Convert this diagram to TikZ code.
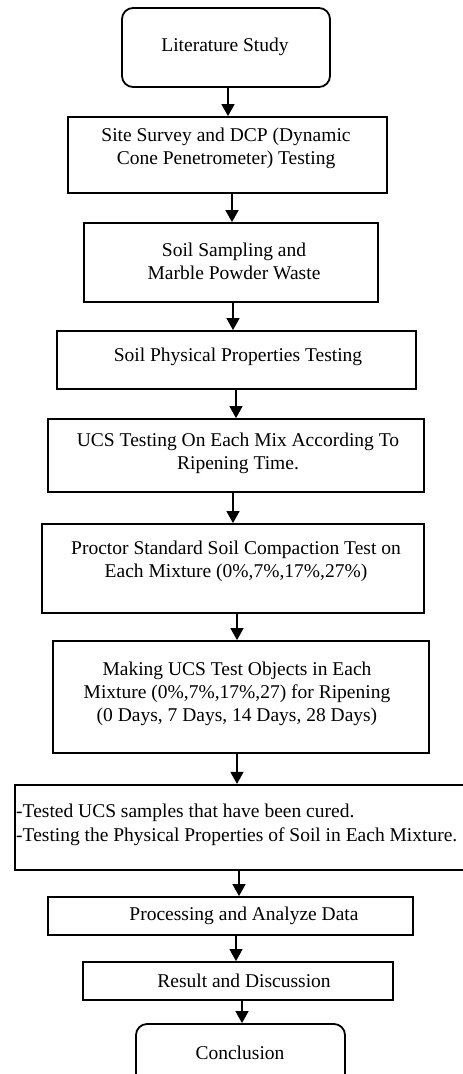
\documentclass[tikz,border=0pt]{standalone}
\usepackage{fontspec}
\setmainfont{Liberation Serif}
\usetikzlibrary{arrows.meta}
\begin{document}
\begin{tikzpicture}[x=1pt,y=-1pt,
  box/.style={draw,line width=1.8pt,inner sep=0pt},
  rbox/.style={box,rounded corners=11pt},
  txt/.style={inner sep=0pt,align=center,font=\fontsize{19.5}{23}\selectfont},
  ltxt/.style={inner sep=0pt,align=left,font=\fontsize{19.5}{24}\selectfont},
  arr/.style={line width=1.4pt,-{Triangle[width=13pt,length=12pt]}}]
\useasboundingbox (0,0) rectangle (463,1074);
\clip (0,0) rectangle (463,1074);

% boxes
\node[rbox,minimum width=208pt,minimum height=79pt] (b1) at (226,47.5) {};
\node[box,minimum width=319pt,minimum height=76pt] (b2) at (227.5,155) {};
\node[box,minimum width=294pt,minimum height=79pt] (b3) at (231,262.5) {};
\node[box,minimum width=359pt,minimum height=58pt] (b4) at (236.5,360) {};
\node[box,minimum width=376pt,minimum height=73pt] (b5) at (236,455.5) {};
\node[box,minimum width=382pt,minimum height=89pt] (b6) at (233,568.5) {};
\node[box,minimum width=376pt,minimum height=112pt] (b7) at (241,697) {};
\node[box,line width=2.2pt,minimum width=470pt,minimum height=85pt] (b8) at (250,827.5) {};
\node[box,minimum width=365pt,minimum height=38pt] (b9) at (230.5,916) {};
\node[box,minimum width=310pt,minimum height=38pt] (b10) at (238,981) {};
\node[rbox,minimum width=209pt,minimum height=80pt] (b11) at (240.5,1064) {};

% texts
\node[txt] (t1) at (225,47) {Literature Study};
\node[txt] (t2) at (226,148.5) {Site Survey and DCP (Dynamic\\Cone Penetrometer) Testing};
\node[txt] (t3) at (234,261.5) {Soil Sampling and\\Marble Powder Waste};
\node[txt] (t4) at (238,357) {Soil Physical Properties Testing};
\node[txt] (t5) at (238,453) {UCS Testing On Each Mix According To\\Ripening Time.};
\node[txt] (t6) at (236,561.5) {Proctor Standard Soil Compaction Test on\\Each Mixture (0\%,7\%,17\%,27\%)};
\node[txt] (t7) at (237,694) {Making UCS Test Objects in Each\\Mixture (0\%,7\%,17\%,27) for Ripening\\(0 Days, 7 Days, 14 Days, 28 Days)};
\node[ltxt,anchor=west] (t8) at (16,825) {-Tested UCS samples that have been cured.\\-Testing the Physical Properties of Soil in Each Mixture.};
\node[txt] (t9) at (244,916) {Processing and Analyze Data};
\node[txt] (t10) at (244,981) {Result and Discussion};
\node[txt] (t11) at (240,1053) {Conclusion};

% connectors
\draw[arr] ([xshift=2pt]b1.south) -- ([xshift=2pt]b1.south |- b2.north);
\draw[arr] ([xshift=4.5pt]b2.south) -- ([xshift=4.5pt]b2.south |- b3.north);
\draw[arr] ([xshift=2pt]b3.south) -- ([xshift=2pt]b3.south |- b4.north);
\draw[arr] ([xshift=-0.5pt]b4.south) -- ([xshift=-0.5pt]b4.south |- b5.north);
\draw[arr] ([xshift=-3pt]b5.south) -- ([xshift=-3pt]b5.south |- b6.north);
\draw[arr] ([xshift=4pt]b6.south) -- ([xshift=4pt]b6.south |- b7.north);
\draw[arr] ([xshift=-4pt]b7.south) -- ([xshift=-4pt]b7.south |- b8.north);
\draw[arr] ([xshift=-11pt]b8.south) -- ([xshift=-11pt]b8.south |- b9.north);
\draw[arr] ([xshift=5.5pt]b9.south) -- ([xshift=5.5pt]b9.south |- b10.north);
\draw[arr] ([xshift=4pt]b10.south) -- ([xshift=4pt]b10.south |- b11.north);
\end{tikzpicture}
\end{document}
